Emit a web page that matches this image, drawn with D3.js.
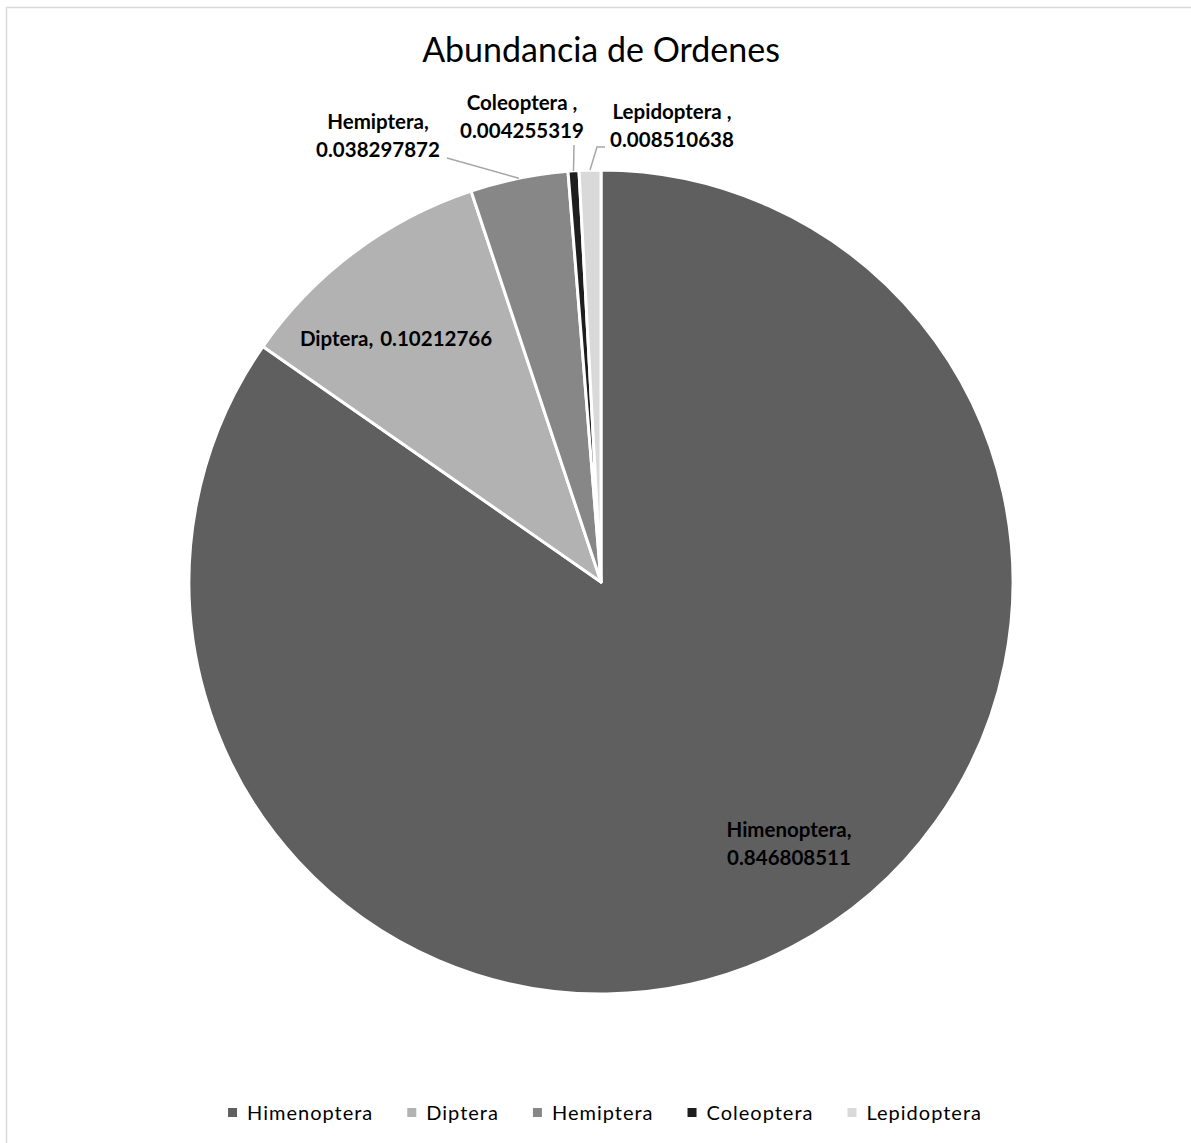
<!DOCTYPE html>
<html>
<head>
<meta charset="utf-8">
<script src="https://cdn.jsdelivr.net/npm/d3@7"></script>
<style>
  html, body { margin: 0; padding: 0; background: #fff; }
  svg { display: block; }
</style>
</head>
<body>
<svg id="chart" width="1191" height="1143"></svg>
<script>
// Orders and their relative abundance
const categories = ["Himenoptera", "Diptera", "Hemiptera", "Coleoptera", "Lepidoptera"];
const values = [0.846808511, 0.10212766, 0.038297872, 0.004255319, 0.008510638];
const labelNames = ["Himenoptera,", "Diptera,", "Hemiptera,", "Coleoptera ,", "Lepidoptera ,"];
const valueText = ["0.846808511", "0.10212766", "0.038297872", "0.004255319", "0.008510638"];
const sliceColors = ["#5f5f5f", "#b2b2b2", "#878787", "#1e1e1e", "#d9d9d9"];
const chartTitle = "Abundancia de Ordenes";

const W = 1191, H = 1143;
const cx = 601, cy = 582, R = 412;
const FONT = "Lato, 'Open Sans', sans-serif";

const svg = d3.select("#chart");

// outer chart frame
svg.append("rect")
  .attr("x", 6.5).attr("y", 7.5)
  .attr("width", W + 20).attr("height", H + 20)
  .attr("fill", "#fff").attr("stroke", "#d9d9d9").attr("stroke-width", 1.5);

// title
svg.append("text")
  .attr("x", cx).attr("y", 62)
  .attr("text-anchor", "middle")
  .attr("font-family", FONT).attr("font-size", 34)
  .attr("fill", "#000")
  .text(chartTitle);

const data = categories.map((c, i) => ({ name: c, value: values[i], color: sliceColors[i],
  line1: labelNames[i], line2: valueText[i] }));

const pie = d3.pie().value(d => d.value).sort(null);
const arcs = pie(data);
const arc = d3.arc().innerRadius(0).outerRadius(R);

const g = svg.append("g").attr("transform", `translate(${cx},${cy})`);

g.selectAll("path.slice")
  .data(arcs)
  .join("path")
  .attr("class", "slice")
  .attr("d", arc)
  .attr("fill", d => d.data.color)
  .attr("stroke", "#fff")
  .attr("stroke-width", 3)
  .attr("stroke-linejoin", "round");

// label placement (offsets from pie centre, in px); outside labels get a leader line
const labelLayout = {
  Himenoptera: { dx: 188, dy: 262, split: true },
  Diptera:     { dx: -205, dy: -243, split: false },
  Hemiptera:   { dx: -223, dy: -446, split: true, leader: [[-154, -424]] },
  Coleoptera:  { dx: -79,  dy: -465, split: true, leader: [[-27, -437]] },
  Lepidoptera: { dx: 71,   dy: -456, split: true, leader: [[4, -435], [-4, -435]] }
};

const lineGap = 28;
const labelG = g.append("g");

arcs.forEach(a => {
  const L = labelLayout[a.data.name];
  if (L.leader) {
    // leader runs from the label to the middle of the slice's rim
    const mid = (a.startAngle + a.endAngle) / 2;
    const end = [R * Math.sin(mid), -R * Math.cos(mid)];
    labelG.append("path")
      .attr("d", d3.line()(L.leader.concat([end])))
      .attr("fill", "none")
      .attr("stroke", "#a6a6a6")
      .attr("stroke-width", 1.5);
  }
  const t = labelG.append("text")
    .attr("text-anchor", "middle")
    .attr("font-family", FONT).attr("font-weight", "bold").attr("font-size", 20.5)
    .attr("fill", "#000");
  if (L.split) {
    t.append("tspan").attr("x", L.dx).attr("y", L.dy - lineGap / 2 + 7).text(a.data.line1);
    t.append("tspan").attr("x", L.dx).attr("y", L.dy + lineGap / 2 + 7).text(a.data.line2);
  } else {
    t.attr("word-spacing", 2)
      .append("tspan").attr("x", L.dx).attr("y", L.dy + 7).text(a.data.line1 + " " + a.data.line2);
  }
});

// legend
const legend = svg.append("g");
const legendY = 1112.5;
const items = legend.selectAll("g.item").data(data).join("g").attr("class", "item");
items.append("rect")
  .attr("width", 9).attr("height", 9)
  .attr("y", legendY - 4.5)
  .attr("fill", d => d.color);
items.append("text")
  .attr("x", 19).attr("y", legendY + 7.5)
  .attr("font-family", FONT).attr("font-size", 20)
  .attr("letter-spacing", 1)
  .attr("fill", "#000")
  .text(d => d.name);

// lay legend entries out in a centred row
const gap = 34;
const widths = [];
items.each(function () { widths.push(this.getBBox().width); });
const total = d3.sum(widths) + gap * (widths.length - 1);
let x0 = cx + 4 - total / 2;
items.attr("transform", (d, i) => {
  const x = x0;
  x0 += widths[i] + gap;
  return `translate(${x},0)`;
});
</script>
</body>
</html>
